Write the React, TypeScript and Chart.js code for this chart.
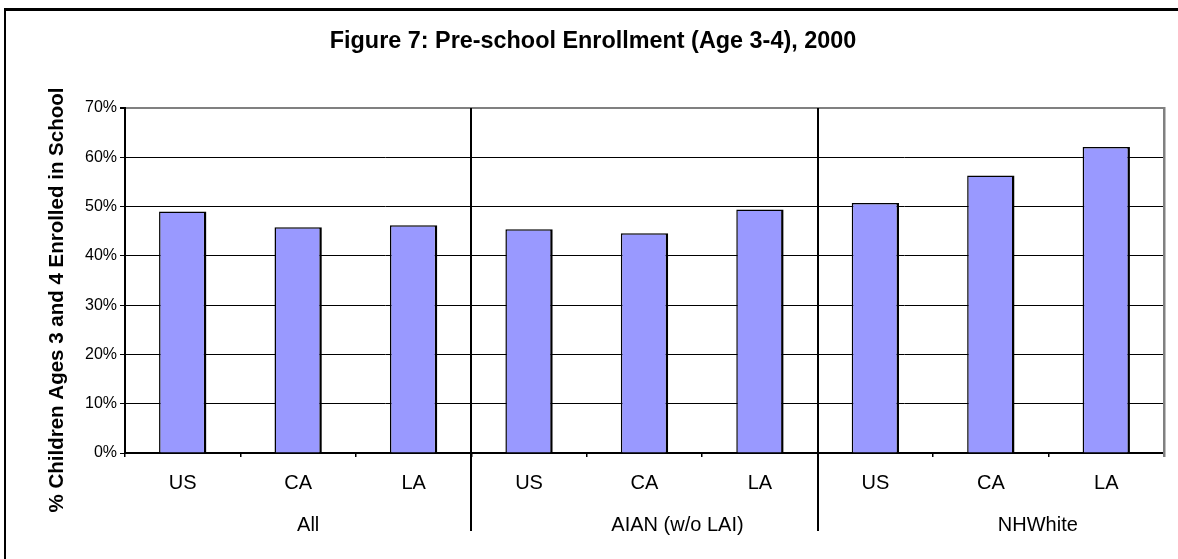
import React, { useEffect, useRef } from "react";
import { Chart, registerables } from "chart.js";

Chart.register(...registerables);

// Pre-school enrollment, children aged 3-4, year 2000
const groups = ["All", "AIAN (w/o LAI)", "NHWhite"];
const places = ["US", "CA", "LA"];
const allValues = [49.0, 45.8, 46.2];
const aianValues = [45.4, 44.6, 49.4];
const whiteValues = [50.7, 56.3, 62.1];
const yTickValues = [0, 10, 20, 30, 40, 50, 60, 70];
const chartTitle = "Figure 7: Pre-school Enrollment (Age 3-4), 2000";
const yAxisTitle = "% Children Ages 3 and 4 Enrolled in School";

const FONT = "'Liberation Sans', Arial, Helvetica, sans-serif";
const W = 1178;
const H = 559;

const categoryLabels = groups.flatMap(() => places);
const values = [...allValues, ...aianValues, ...whiteValues];

// horizontal nudge of each group caption relative to its group centre
const groupCaptionShift = [10, 33, 47];

const decorations = {
  id: "decorations",
  beforeDraw(chart: any) {
    const { ctx } = chart;
    ctx.save();
    ctx.fillStyle = "#ffffff";
    ctx.fillRect(0, 0, chart.width, chart.height);
    ctx.restore();
  },
  afterDraw(chart: any) {
    const { ctx, chartArea } = chart;
    const x = chart.scales.x;
    ctx.save();

    // outer frame (top and left edges)
    ctx.fillStyle = "#000000";
    ctx.fillRect(4, 8, W - 4, 3);
    ctx.fillRect(4, 8, 2, H - 8);

    // plot-area right edge
    ctx.fillStyle = "#808080";
    ctx.fillRect(chartArea.right - 1, chartArea.top - 1, 2.5, chartArea.bottom - chartArea.top + 5);

    // group separators
    ctx.fillStyle = "#000000";
    const per = places.length;
    for (let g = 1; g < groups.length; g++) {
      const i = g * per;
      const px = (x.getPixelForValue(i - 1) + x.getPixelForValue(i)) / 2;
      ctx.fillRect(Math.round(px) - 1, chartArea.top, 2, 531 - chartArea.top);
    }

    // group captions
    ctx.font = `20px ${FONT}`;
    ctx.textAlign = "center";
    ctx.textBaseline = "alphabetic";
    for (let g = 0; g < groups.length; g++) {
      const a = x.getPixelForValue(g * per);
      const b = x.getPixelForValue(g * per + per - 1);
      ctx.fillText(groups[g], (a + b) / 2 + groupCaptionShift[g], 531);
    }

    // chart title
    ctx.font = `bold 23.4px ${FONT}`;
    ctx.fillText(chartTitle, 593, 48);

    // y-axis title
    ctx.translate(63, 300);
    ctx.rotate(-Math.PI / 2);
    ctx.font = `bold 20.5px ${FONT}`;
    ctx.fillText(yAxisTitle, 0, 0);

    ctx.restore();
  },
};

export default function App() {
  const canvasRef = useRef<HTMLCanvasElement | null>(null);

  useEffect(() => {
    const canvas = canvasRef.current;
    if (!canvas) return;
    Chart.defaults.font.family = FONT;

    const chart = new Chart(canvas, {
      type: "bar",
      data: {
        labels: categoryLabels,
        datasets: [
          {
            data: values,
            backgroundColor: "#9999FF",
            borderColor: "#000000",
            borderWidth: { top: 1.5, left: 1.5, right: 2.5, bottom: 0 },
            borderSkipped: false,
            barPercentage: 0.41,
            categoryPercentage: 1.0,
          },
        ],
      },
      options: {
        responsive: false,
        animation: false,
        layout: { padding: { left: 0, top: 108, right: 14, bottom: 0 } },
        plugins: {
          legend: { display: false },
          title: { display: false },
          tooltip: { enabled: false },
        },
        scales: {
          x: {
            afterFit: (s: any) => {
              s.height = 106;
            },
            grid: {
              offset: true,
              drawOnChartArea: false,
              drawTicks: true,
              tickLength: 4,
              color: "#000000",
              lineWidth: 1.5,
            },
            border: { color: "#000000", width: 2 },
            ticks: {
              color: "#000000",
              font: { size: 20, family: FONT },
              padding: 14,
              maxRotation: 0,
              autoSkip: false,
            },
          },
          y: {
            min: 0,
            max: 70,
            afterFit: (s: any) => {
              s.width = 125;
            },
            afterBuildTicks: (s: any) => {
              s.ticks = yTickValues.map((v) => ({ value: v }));
            },
            grid: {
              color: (c: any) => (c.tick && c.tick.value === 70 ? "#808080" : "#000000"),
              lineWidth: (c: any) => (c.tick && c.tick.value === 70 ? 2 : 1),
              tickColor: "#000000",
              tickLength: 5,
              drawTicks: true,
            },
            border: { color: "#000000", width: 2 },
            ticks: {
              color: "#000000",
              font: { size: 16, family: FONT },
              padding: 3,
              callback: (v: any) => `${v}%`,
            },
          },
        },
      },
      plugins: [decorations],
    });

    return () => chart.destroy();
  }, []);

  return (
    <div style={{ position: "absolute", left: 0, top: 0, width: W, height: H, background: "#fff" }}>
      <canvas ref={canvasRef} width={W} height={H} style={{ display: "block" }} />
    </div>
  );
}
